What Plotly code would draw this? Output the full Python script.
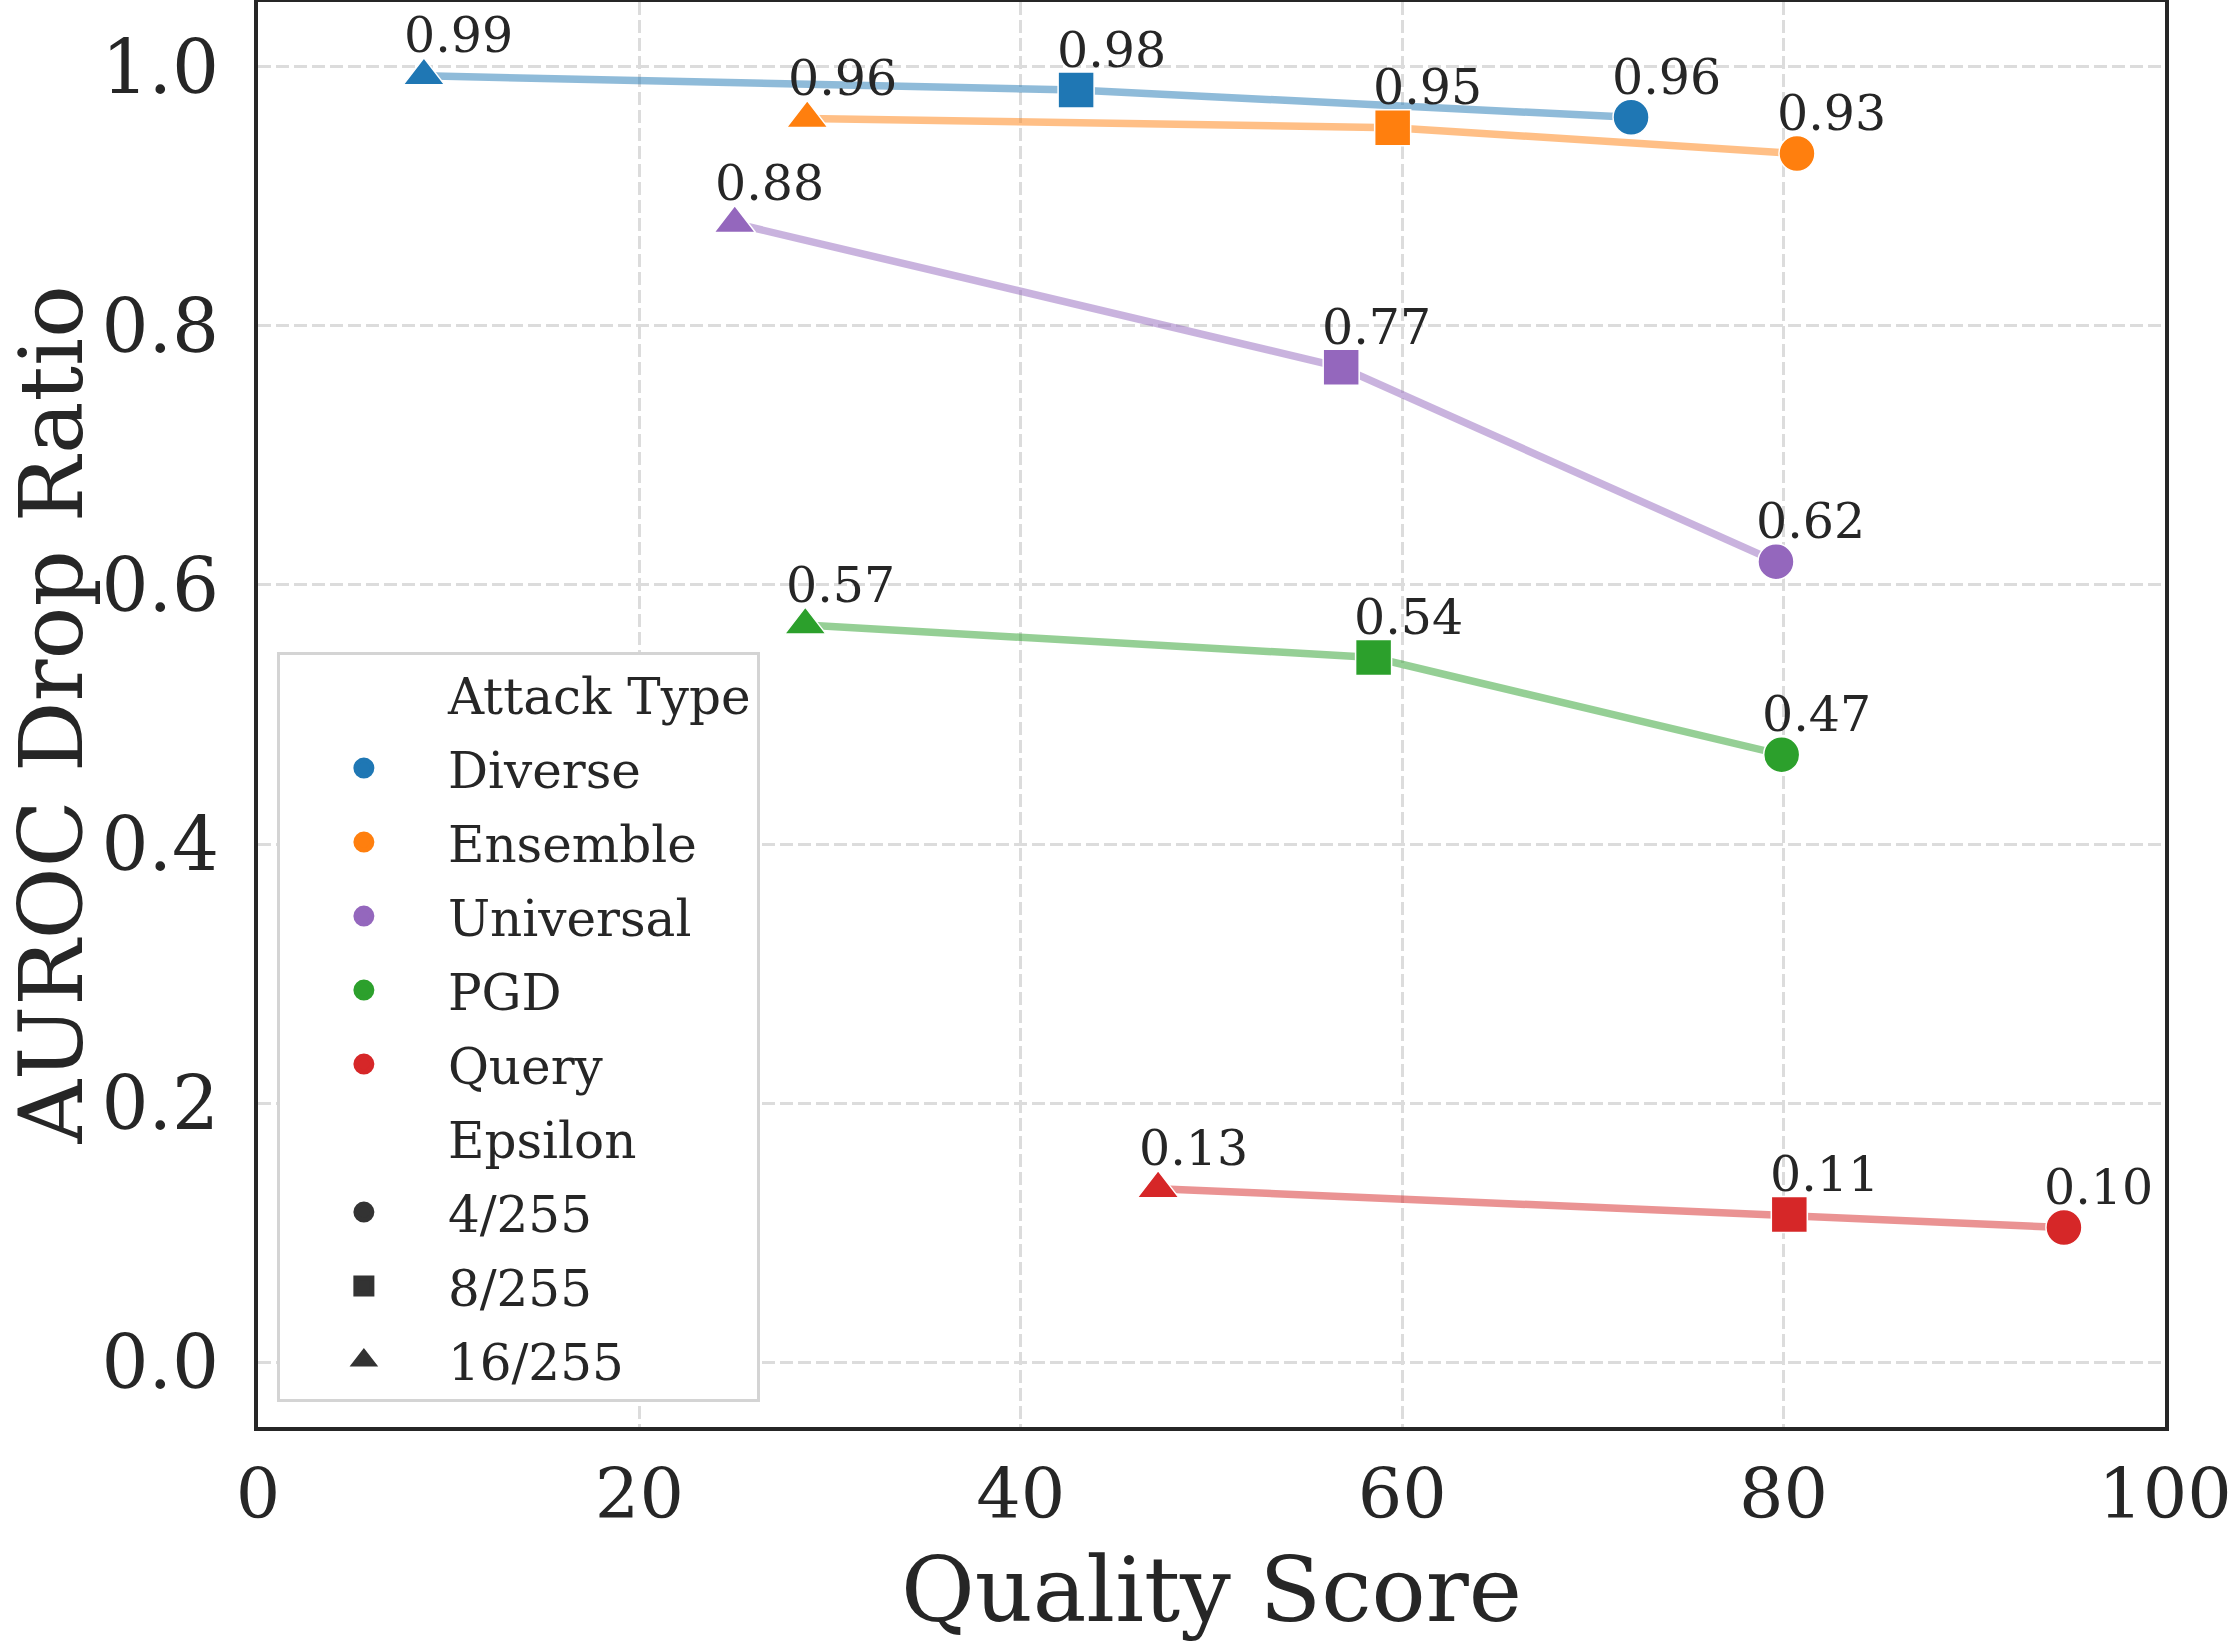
import plotly.graph_objects as go

# ---- data ----
attack_types = ["Diverse", "Ensemble", "Universal", "PGD", "Query"]
epsilons = ["4/255", "8/255", "16/255"]

diverse_x = [8.7, 42.9, 72.0]
diverse_y = [0.993, 0.982, 0.961]
diverse_eps = ["16/255", "8/255", "4/255"]

ensemble_x = [28.8, 59.5, 80.7]
ensemble_y = [0.960, 0.953, 0.933]
ensemble_eps = ["16/255", "8/255", "4/255"]

universal_x = [25.0, 56.8, 79.6]
universal_y = [0.879, 0.768, 0.618]
universal_eps = ["16/255", "8/255", "4/255"]

pgd_x = [28.7, 58.5, 79.9]
pgd_y = [0.569, 0.544, 0.469]
pgd_eps = ["16/255", "8/255", "4/255"]

query_x = [47.2, 80.3, 94.7]
query_y = [0.134, 0.114, 0.104]
query_eps = ["16/255", "8/255", "4/255"]

x_ticks = [0, 20, 40, 60, 80, 100]
y_ticks = [0.0, 0.2, 0.4, 0.6, 0.8, 1.0]

# ---- styling ----
colors = {"Diverse": "#1f77b4", "Ensemble": "#ff7f0e", "Universal": "#9467bd",
          "PGD": "#2ca02c", "Query": "#d62728"}
line_colors = {"Diverse": "rgba(31,119,180,0.5)", "Ensemble": "rgba(255,127,14,0.5)",
               "Universal": "rgba(148,103,189,0.5)", "PGD": "rgba(44,160,44,0.5)",
               "Query": "rgba(214,39,40,0.5)"}
symbols = {"4/255": "circle", "8/255": "square", "16/255": "triangle-up"}
sizes = {"4/255": 36, "8/255": 36, "16/255": 36}
FONT = "DejaVu Serif"
TXT = "#262626"

series = {
    "Diverse": (diverse_x, diverse_y, diverse_eps),
    "Ensemble": (ensemble_x, ensemble_y, ensemble_eps),
    "Universal": (universal_x, universal_y, universal_eps),
    "PGD": (pgd_x, pgd_y, pgd_eps),
    "Query": (query_x, query_y, query_eps),
}

fig = go.Figure()

# lines
for name in attack_types:
    xs, ys, eps = series[name]
    fig.add_trace(go.Scatter(x=xs, y=ys, mode="lines", showlegend=False,
                             line=dict(color=line_colors[name], width=7.5),
                             hoverinfo="skip"))
# markers
for name in attack_types:
    xs, ys, eps = series[name]
    fig.add_trace(go.Scatter(x=xs, y=ys, mode="markers", showlegend=False,
                             marker=dict(color=colors[name], opacity=1,
                                         symbol=[symbols[e] for e in eps],
                                         size=[sizes[e] for e in eps],
                                         line=dict(color="white", width=1.5))))

# value labels
annotations = []
for name in attack_types:
    xs, ys, eps = series[name]
    for xv, yv in zip(xs, ys):
        annotations.append(dict(x=xv, y=yv, xref="x", yref="y", text=f"{yv:.2f}",
                                showarrow=False, xshift=35, yshift=40,
                                font=dict(family=FONT, size=49, color=TXT)))

# y-axis title
annotations.append(dict(text="AUROC Drop Ratio", textangle=-90, showarrow=False,
                        xref="paper", yref="paper", x=0, y=0.5,
                        xanchor="center", yanchor="middle", xshift=-207,
                        font=dict(family=FONT, size=88, color=TXT)))

# legend entries
gi = 0
def add_legend(name, color, symbol):
    global gi
    gi += 1
    fig.add_trace(go.Scatter(x=[None], y=[None], mode="markers", name=name,
                             legendgroup=f"g{gi}", showlegend=True,
                             marker=dict(color=color, symbol=symbol, size=16, opacity=1,
                                         line=dict(color=color, width=5))))

add_legend("Attack Type", "rgba(0,0,0,0)", "circle")
for name in attack_types:
    add_legend(name, colors[name], "circle")
add_legend("Epsilon", "rgba(0,0,0,0)", "circle")
for e in epsilons:
    add_legend(e, "#333333", symbols[e])

fig.update_layout(
    width=2232, height=1642,
    margin=dict(l=258, r=67, t=2, b=215, autoexpand=False),
    paper_bgcolor="white", plot_bgcolor="white",
    font=dict(family=FONT, color=TXT),
    annotations=annotations,
    legend=dict(x=0.0099, y=0.0175, xanchor="left", yanchor="bottom",
                bgcolor="white", bordercolor="#d4d4d4", borderwidth=3,
                font=dict(family=FONT, size=50, color=TXT),
                itemwidth=158, tracegroupgap=6, traceorder="grouped"),
)

axis_common = dict(showline=True, linecolor=TXT, linewidth=4, mirror=True,
                   showgrid=True, gridcolor="#dcdcdc", gridwidth=3, griddash="13px,5px",
                   zeroline=False, ticks="", automargin=False, ticklabeloverflow="allow")

fig.update_xaxes(range=[0, 100], tickvals=x_ticks, ticktext=[str(v) for v in x_ticks],
                 ticklabelstandoff=3,
                 tickfont=dict(family=FONT, size=70, color=TXT),
                 title=dict(text="Quality Score", font=dict(family=FONT, size=90, color=TXT),
                            standoff=38),
                 **axis_common)
fig.update_yaxes(range=[-0.05, 1.05], tickvals=y_ticks, ticktext=[f"{v:.1f}" for v in y_ticks],
                 ticklabelstandoff=20,
                 tickfont=dict(family=FONT, size=74, color=TXT),
                 **axis_common)

fig.write_html("out.html")
